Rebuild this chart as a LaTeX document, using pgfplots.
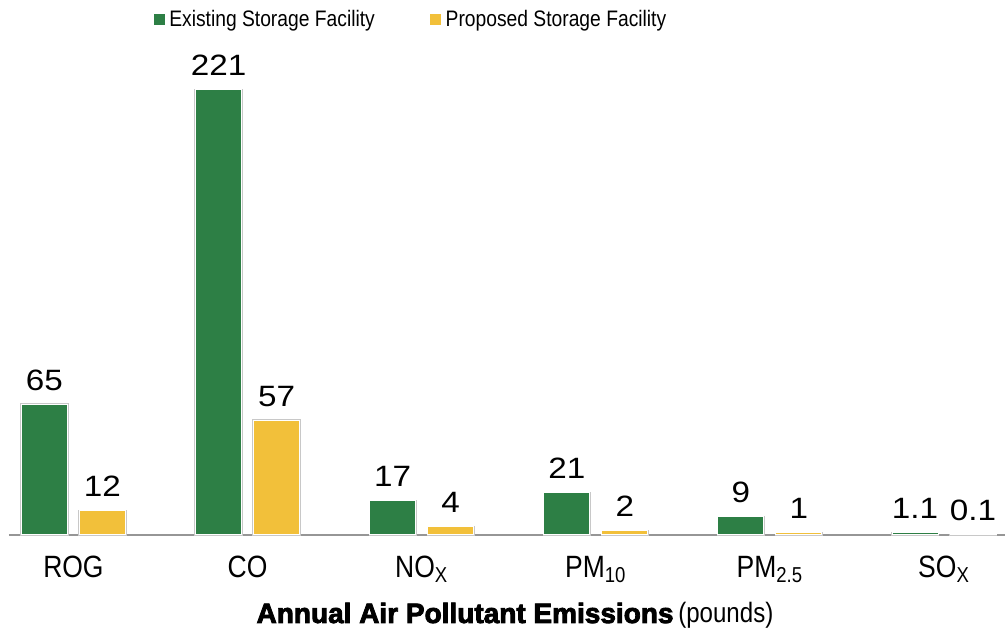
\documentclass[border=0pt]{standalone}
\usepackage{pgfplots}
\pgfplotsset{compat=1.18}
\usepackage{fontspec}
\setmainfont{Liberation Sans}[FakeStretch=0.86]
\newfontfamily\numfont{Liberation Sans}[FakeStretch=1.13]
\newfontfamily\heavyfont{Liberation Sans Bold}[FakeBold=3]
\definecolor{cgreen}{RGB}{45,127,69}
\definecolor{cyellow}{RGB}{242,192,58}
\definecolor{cedge}{RGB}{200,200,200}
\definecolor{caxis}{RGB}{150,150,150}
\begin{document}
\begin{tikzpicture}
\begin{axis}[
  scale only axis, width=498pt, height=237.5pt,
  xmin=-0.37, xmax=5.35, ymin=0, ymax=235.9,
  hide y axis,
  axis x line*=bottom,
  x axis line style={draw=caxis, line width=0.6pt, -},
  xtick={0,1,2,3,4,5},
  xticklabels={ROG,CO,NO\textsubscript{X},PM\textsubscript{10},PM\textsubscript{2.5},SO\textsubscript{X}},
  major tick length=0pt,
  xticklabel style={font=\fontsize{15.4}{16}\selectfont, anchor=north, inner sep=0pt, text height=11pt, text depth=0pt, yshift=-10pt},
  ybar, bar width=23pt,
  nodes near coords,
  nodes near coords style={font=\numfont\fontsize{14.7}{15}\selectfont, anchor=base, inner sep=0pt, yshift=7pt, text=black},
  /pgf/number format/assume math mode=true,
  clip=false,
  legend columns=2,
  legend style={draw=none, fill=none, at={(0.405,1.085)}, anchor=center,
    font=\fontsize{11.2}{13}\selectfont,
    /tikz/every even column/.append style={column sep=25pt},
    nodes={inner sep=1pt, inner xsep=2.5pt}},
]
\addlegendimage{legend image code/.code={\fill[cgreen] (0pt,-2.5pt) rectangle (5pt,2.5pt);}}
\addlegendentry{Existing Storage Facility}
\addlegendimage{legend image code/.code={\fill[cyellow] (0pt,-2.5pt) rectangle (5pt,2.5pt);}}
\addlegendentry{Proposed Storage Facility}
\addplot[forget plot, fill=cgreen, draw=white, line width=0.5pt, preaction={draw=cedge, line width=1.1pt}, bar shift=-14.5pt]
  coordinates {(0,65) (1,221) (2,17) (3,21) (4,9) (5,1.1)};
\addplot[forget plot, fill=cyellow, draw=white, line width=0.5pt, preaction={draw=cedge, line width=1.1pt}, bar shift=14.5pt]
  coordinates {(0,12) (1,57) (2,4) (3,2) (4,1) (5,0.1)};
\node[anchor=base, inner sep=0pt, yshift=-44pt] at (rel axis cs:0.508,0)
  {{\heavyfont\fontsize{14}{16}\selectfont Annual Air Pollutant Emissions} {\fontsize{14}{16}\selectfont(pounds)}};
\coordinate (BL) at (rel axis cs:-0.00904,-0.2084);
\coordinate (TR) at (rel axis cs:1,1.1263);
\end{axis}
\pgfresetboundingbox
\path (BL) rectangle (TR);
\end{tikzpicture}
\end{document}
